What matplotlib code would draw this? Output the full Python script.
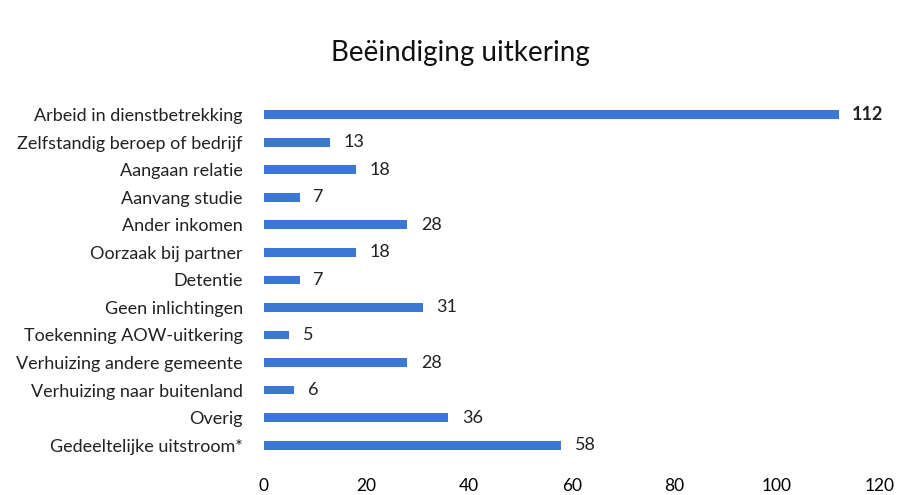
import matplotlib.pyplot as plt

plt.rcParams['font.family'] = ['Lato', 'DejaVu Sans']

categories = [
    "Arbeid in dienstbetrekking",
    "Zelfstandig beroep of bedrijf",
    "Aangaan relatie",
    "Aanvang studie",
    "Ander inkomen",
    "Oorzaak bij partner",
    "Detentie",
    "Geen inlichtingen",
    "Toekenning AOW-uitkering",
    "Verhuizing andere gemeente",
    "Verhuizing naar buitenland",
    "Overig",
    "Gedeeltelijke uitstroom*",
]
values = [112, 13, 18, 7, 28, 18, 7, 31, 5, 28, 6, 36, 58]
x_ticks = [0, 20, 40, 60, 80, 100, 120]

fig = plt.figure(figsize=(9.06, 4.95), dpi=100)
ax = fig.add_axes([0.291, 0.073, 0.68, 0.723])

pos = list(range(len(categories)))
ax.barh(pos, values, height=0.32, color="#3a78d4")
ax.set_ylim(len(categories) - 0.5, -0.5)
ax.set_xlim(0, 120)

ax.set_yticks(pos)
ax.set_yticklabels(categories, fontsize=13, color="#222222")
ax.set_xticks(x_ticks)
ax.set_xticklabels([str(t) for t in x_ticks], fontsize=12.5, color="#000000")
ax.tick_params(axis="y", length=0, pad=15)
ax.tick_params(axis="x", length=0, pad=14)

for s in ax.spines.values():
    s.set_visible(False)

for p, v in zip(pos, values):
    weight = "bold" if v == 112 else "normal"
    ax.text(v + 2.6, p, str(v), va="center", ha="left", fontsize=13,
            color="#222222", fontweight=weight)

fig.text(0.508, 0.892, "Beëindiging uitkering", ha="center", va="center",
         fontsize=20, color="#111111")

fig.savefig("out.png", dpi=100)
